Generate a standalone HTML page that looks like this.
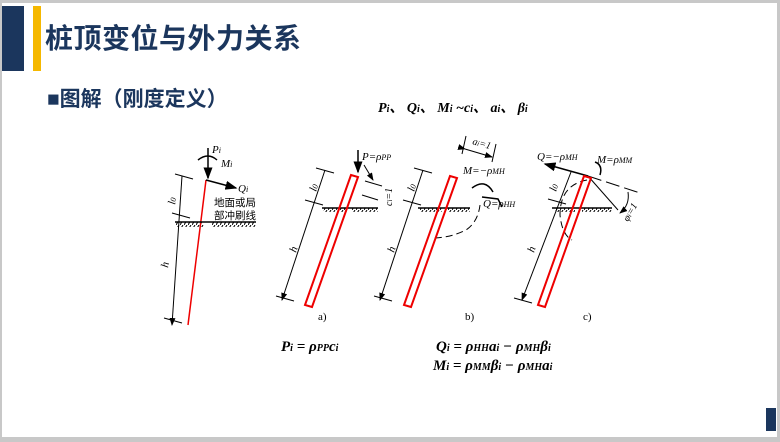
<!DOCTYPE html>
<html><head><meta charset="utf-8"><style>
html,body{margin:0;padding:0;}
body{width:780px;height:442px;background:#c8c8c8;position:relative;overflow:hidden;font-family:"Liberation Sans","Noto Sans CJK SC",sans-serif;}
#pg{position:absolute;left:2px;top:3px;width:775px;height:434px;background:#fff;}
</style></head><body>
<div id="pg"></div>
<div style="position:absolute;left:2px;top:6px;width:22px;height:65px;background:#1b365d"></div>
<div style="position:absolute;left:33px;top:6px;width:8px;height:65px;background:#f5b800"></div>
<div style="position:absolute;left:45px;top:17px;font-size:28px;font-weight:bold;color:#1b365d;font-family:'Liberation Sans','Noto Sans CJK SC',sans-serif;letter-spacing:0.5px">桩顶变位与外力关系</div>
<div style="position:absolute;left:47px;top:83px;font-size:21px;font-weight:bold;color:#1b365d;font-family:'Liberation Sans','Noto Sans CJK SC',sans-serif">■图解（刚度定义）</div>
<div style="position:absolute;left:766px;top:408px;width:10px;height:23px;background:#1b365d"></div>
<svg style="position:absolute;left:0;top:0" width="780" height="442" font-family="Liberation Serif,serif">
<defs>
<marker id="ar" markerWidth="8" markerHeight="6" refX="7" refY="3" orient="auto"><path d="M0,0L8,3L0,6z" fill="#000"/></marker>
<pattern id="ht" width="4" height="5" patternUnits="userSpaceOnUse"><line x1="0" y1="5" x2="3" y2="0" stroke="#000" stroke-width="1"/></pattern>
</defs>
<text x="378" y="112" font-size="14" font-weight="bold" font-style="italic">P<tspan font-size="10">i</tspan>、 Q<tspan font-size="10">i</tspan>、 M<tspan font-size="10">i</tspan> ~c<tspan font-size="10">i</tspan>、 a<tspan font-size="10">i</tspan>、 β<tspan font-size="10">i</tspan></text>
<!-- hatching -->
<rect x="176" y="222" width="28" height="5" fill="url(#ht)"/>
<rect x="212" y="222" width="44" height="5" fill="url(#ht)"/>
<rect x="323" y="208" width="24" height="4" fill="url(#ht)"/>
<rect x="352" y="208" width="26" height="4" fill="url(#ht)"/>
<rect x="420" y="208" width="22" height="4" fill="url(#ht)"/>
<rect x="448" y="208" width="22" height="4" fill="url(#ht)"/>
<rect x="555" y="208" width="20" height="4" fill="url(#ht)"/>
<rect x="582" y="208" width="30" height="4" fill="url(#ht)"/>
<g stroke="#000" stroke-width="1" fill="none">
<!-- fig 1 -->
<line x1="206" y1="180" x2="188" y2="325" stroke="#e00" stroke-width="1.5"/>
<line x1="182" y1="176" x2="172" y2="325" marker-end="url(#ar)"/>
<line x1="175" y1="174" x2="193" y2="179"/>
<line x1="172" y1="213" x2="190" y2="218"/>
<line x1="164" y1="318" x2="182" y2="323"/>
<line x1="175" y1="222" x2="256" y2="222" stroke-width="1.5"/>
<line x1="208" y1="148" x2="208" y2="178" stroke-width="1.5" marker-end="url(#ar)"/>
<line x1="206" y1="180" x2="236" y2="188" stroke-width="1.5" marker-end="url(#ar)"/>
<path d="M198,160 Q208,152 217,160" stroke-width="1.5"/>
<!-- pile a -->
<line x1="325" y1="170" x2="282" y2="300" marker-end="url(#ar)"/>
<line x1="316" y1="168" x2="334" y2="173"/><line x1="305" y1="200" x2="323" y2="205"/><line x1="276" y1="296" x2="294" y2="301"/>
<line x1="322" y1="208" x2="378" y2="208" stroke-width="1.5"/>
<line x1="358" y1="150" x2="358" y2="172" stroke-width="1.5" marker-end="url(#ar)"/>
<line x1="365" y1="181" x2="382" y2="186"/><line x1="362" y1="195" x2="378" y2="200"/>
<line x1="364" y1="165" x2="373" y2="180" marker-end="url(#ar)"/>
<!-- pile b -->
<line x1="423" y1="170" x2="380" y2="300" marker-end="url(#ar)"/>
<line x1="414" y1="168" x2="432" y2="173"/><line x1="403" y1="200" x2="421" y2="205"/><line x1="374" y1="296" x2="392" y2="301"/>
<line x1="418" y1="208" x2="470" y2="208" stroke-width="1.5"/>
<line x1="465" y1="149" x2="492" y2="157" marker-start="url(#ar)" marker-end="url(#ar)"/>
<line x1="466" y1="136" x2="462" y2="154"/><line x1="496" y1="144" x2="492" y2="162"/>
<path d="M472,188 Q485,178 493,192" stroke-width="1.5"/>
<path d="M482,197 L498,199 L502,207" stroke-width="1.5"/>
<path d="M480,205 Q478,222 466,230 Q450,238 432,238" stroke-dasharray="7,4"/>
<!-- pile c -->
<line x1="571" y1="172" x2="522" y2="300" marker-end="url(#ar)"/>
<line x1="548" y1="199" x2="566" y2="204"/><line x1="514" y1="298" x2="532" y2="303"/>
<line x1="552" y1="208" x2="612" y2="208" stroke-width="1.5"/>
<line x1="588" y1="176" x2="545" y2="164" stroke-width="1.5" marker-end="url(#ar)"/>
<line x1="588" y1="176" x2="640" y2="193" stroke-dasharray="14,5"/>
<line x1="588" y1="176" x2="618" y2="210"/>
<path d="M595,162 Q603,165 600,175" stroke-width="1.5"/>
<path d="M587,180 Q560,185 560,215 Q562,235 572,240" stroke-dasharray="7,4"/>
<path d="M628,192 Q630,205 620,213" marker-end="url(#ar)"/>
</g>
<g fill="none" stroke="#e00" stroke-width="2">
<polygon points="351,175 358,177 312,307 305,305"/>
<polygon points="450,176 457,178 411,307 404,305"/>
<polygon points="584,176 591,178 545,307 538,305"/>
</g>
<g font-size="11" font-style="italic">
<text x="212" y="153">P<tspan font-size="8">i</tspan></text><text x="221" y="167">M<tspan font-size="8">i</tspan></text><text x="238" y="192">Q<tspan font-size="8">i</tspan></text>
<text x="175" y="205" transform="rotate(-80 175 205)">l<tspan font-size="8">0</tspan></text>
<text x="168" y="268" transform="rotate(-80 168 268)">h</text>
<text x="362" y="160">P=ρ<tspan font-size="8">PP</tspan></text>
<text x="316" y="192" transform="rotate(-72 316 192)">l<tspan font-size="8">0</tspan></text>
<text x="296" y="253" transform="rotate(-72 296 253)">h</text>
<text x="392" y="206" transform="rotate(-90 392 206)" font-size="10">c<tspan font-size="7">i</tspan>=1</text>
<text x="463" y="174">M=−ρ<tspan font-size="8">MH</tspan></text>
<text x="483" y="207">Q=ρ<tspan font-size="8">HH</tspan></text>
<text x="472" y="144" transform="rotate(16 472 144)" font-size="10">a<tspan font-size="7">i</tspan>=1</text>
<text x="414" y="192" transform="rotate(-72 414 192)">l<tspan font-size="8">0</tspan></text>
<text x="394" y="253" transform="rotate(-72 394 253)">h</text>
<text x="537" y="160">Q=−ρ<tspan font-size="8">MH</tspan></text>
<text x="597" y="163">M=ρ<tspan font-size="8">MM</tspan></text>
<text x="556" y="192" transform="rotate(-72 556 192)">l<tspan font-size="8">0</tspan></text>
<text x="534" y="253" transform="rotate(-72 534 253)">h</text>
<text x="628" y="222" transform="rotate(-60 628 222)" font-size="10">φ<tspan font-size="7">i</tspan>=1</text>
</g>
<g font-size="11"><text x="318" y="320">a)</text><text x="465" y="320">b)</text><text x="583" y="320">c)</text></g>
<g font-family="Liberation Sans,Noto Sans CJK SC,sans-serif" font-size="10.5"><text x="214" y="206">地面或局</text><text x="214" y="219">部冲刷线</text></g>
<g font-size="15" font-weight="bold" font-style="italic">
<text x="281" y="351">P<tspan font-size="10">i</tspan> = ρ<tspan font-size="10">PP</tspan>c<tspan font-size="10">i</tspan></text>
<text x="436" y="351">Q<tspan font-size="10">i</tspan> = ρ<tspan font-size="10">HH</tspan>a<tspan font-size="10">i</tspan> − ρ<tspan font-size="10">MH</tspan>β<tspan font-size="10">i</tspan></text>
<text x="433" y="370">M<tspan font-size="10">i</tspan> = ρ<tspan font-size="10">MM</tspan>β<tspan font-size="10">i</tspan> − ρ<tspan font-size="10">MH</tspan>a<tspan font-size="10">i</tspan></text>
</g>
</svg>
</body></html>
